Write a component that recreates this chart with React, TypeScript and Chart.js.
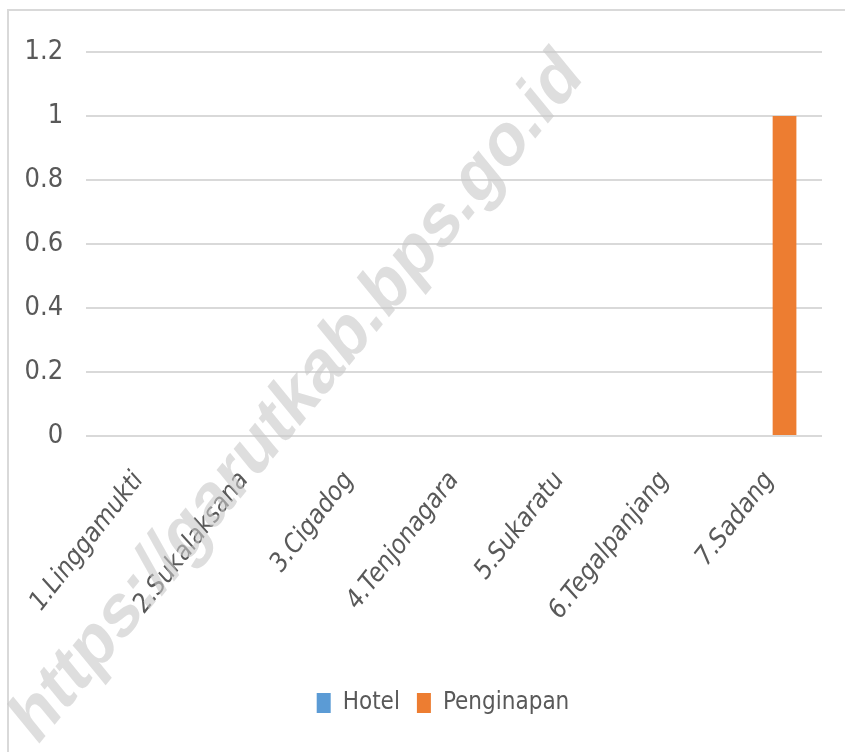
import React, { useEffect, useRef } from "react";
import { Chart, registerables } from "chart.js";

Chart.register(...registerables);

const categories = [
  "1.Linggamukti",
  "2.Sukalaksana",
  "3.Cigadog",
  "4.Tenjonagara",
  "5.Sukaratu",
  "6.Tegalpanjang",
  "7.Sadang",
];
const hotelValues = [0, 0, 0, 0, 0, 0, 0];
const penginapanValues = [0, 0, 0, 0, 0, 0, 1];
const seriesNames = ["Hotel", "Penginapan"];
const watermarkText = "https://garutkab.bps.go.id";

const FONT = "'Liberation Sans Narrow', 'Arial Narrow', 'DejaVu Sans Condensed', sans-serif";
const TEXT = "#595959";

const watermarkPlugin = {
  id: "watermark",
  afterLayout(chart: any) {
    if (chart.legend) {
      chart.legend.left += 32;
      chart.legend.right += 32;
    }
  },
  afterDraw(chart: any) {
    const ctx = chart.ctx;
    ctx.save();
    ctx.translate(298, 398);
    ctx.scale(0.82, 1);
    ctx.rotate(-Math.PI / 4);
    ctx.font = "bold 77px 'Liberation Sans', Arial, sans-serif";
    ctx.fillStyle = "rgba(200,200,200,0.6)";
    ctx.textAlign = "center";
    ctx.textBaseline = "middle";
    ctx.fillText(watermarkText, 0, 0);
    ctx.restore();
  },
};

export default function App() {
  const ref = useRef<HTMLCanvasElement>(null);
  useEffect(() => {
    if (!ref.current) return;
    const chart = new Chart(ref.current, {
      type: "bar",
      data: {
        labels: categories,
        datasets: [
          {
            label: seriesNames[0],
            data: hotelValues,
            backgroundColor: "#5b9bd5",
            borderWidth: 0,
            categoryPercentage: 0.574,
            barPercentage: 0.787,
          },
          {
            label: seriesNames[1],
            data: penginapanValues,
            backgroundColor: "#ed7d31",
            borderWidth: 0,
            categoryPercentage: 0.574,
            barPercentage: 0.787,
          },
        ],
      },
      options: {
        responsive: false,
        maintainAspectRatio: false,
        animation: false,
        layout: { padding: { left: 0, right: 23, top: 52, bottom: 27 } },
        plugins: {
          legend: {
            position: "bottom",
            labels: {
              boxWidth: 14,
              boxHeight: 20,
              padding: 17,
              color: TEXT,
              font: { family: FONT, size: 24 },
            },
          },
          tooltip: { enabled: false },
        },
        scales: {
          x: {
            grid: { display: false, drawTicks: false },
            border: { display: false },
            ticks: {
              autoSkip: false,
              maxRotation: 52,
              minRotation: 52,
              padding: 30,
              color: TEXT,
              font: { family: FONT, size: 26, style: "italic" },
            },
            afterFit(axis: any) {
              axis.height = 238;
            },
          },
          y: {
            min: 0,
            max: 1.2,
            grid: { color: "#d9d9d9", lineWidth: 2, drawTicks: false },
            border: { display: false },
            ticks: {
              stepSize: 0.2,
              padding: 23,
              color: TEXT,
              font: { family: FONT, size: 27 },
              callback: (v: any) => String(Number(Number(v).toFixed(2))),
            },
            afterFit(axis: any) {
              axis.width = 78;
            },
          },
        },
      },
      plugins: [watermarkPlugin],
    });
    return () => chart.destroy();
  }, []);
  return (
    <div style={{ position: "fixed", left: 0, top: 0, width: 845, height: 752, overflow: "hidden", background: "#fff" }}>
      <div
        style={{
          position: "absolute",
          left: 7,
          top: 9,
          width: 900,
          height: 900,
          border: "2px solid #d9d9d9",
        }}
      />
      <canvas ref={ref} width={845} height={752} style={{ position: "absolute", left: 0, top: 0 }} />
    </div>
  );
}
